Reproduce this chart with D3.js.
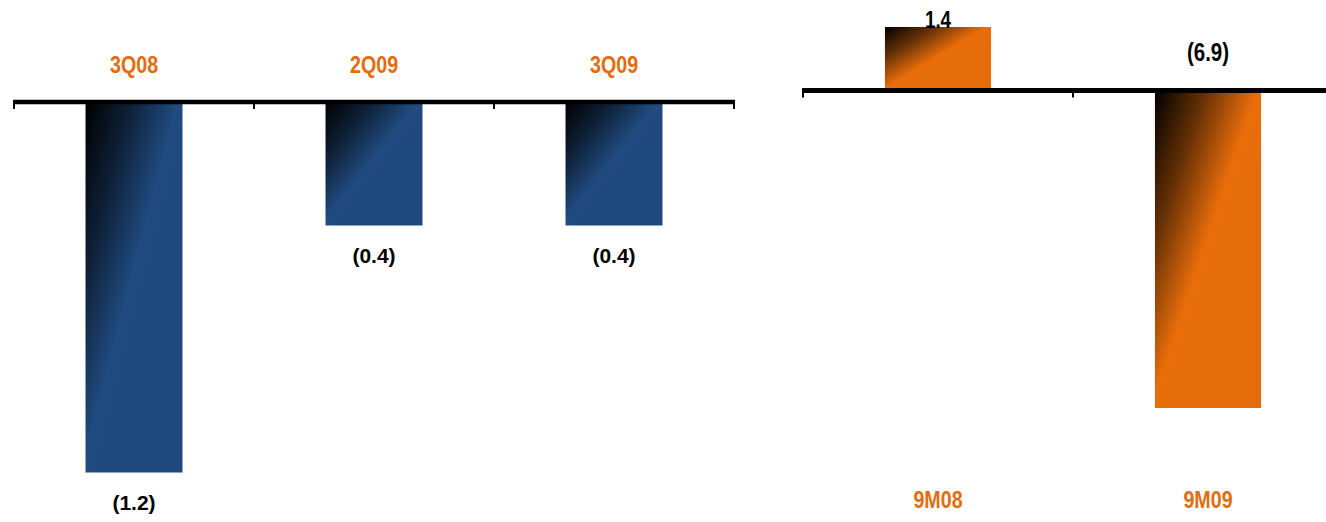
<!DOCTYPE html>
<html>
<head>
<meta charset="utf-8">
<script src="https://cdn.jsdelivr.net/npm/d3@7"></script>
<style>
  html, body { margin: 0; padding: 0; background: #fff; }
  svg { display: block; }
</style>
</head>
<body>
<svg id="chart" width="1326" height="522"></svg>
<script>
// ---- data ----
const quarterCategories = ["3Q08", "2Q09", "3Q09"];
const quarterValues = [-1.2, -0.4, -0.4];
const quarterLabels = ["(1.2)", "(0.4)", "(0.4)"];

const ytdCategories = ["9M08", "9M09"];
const ytdValues = [1.4, -6.9];
const ytdLabels = ["1.4", "(6.9)"];

// ---- styles ----
const BLUE = "#1F497D";
const ORANGE = "#E46C0A";
const SANS = "'Liberation Sans', Arial, sans-serif";
const NARROW_SCALE = 0.82;

const svg = d3.select("#chart");
const defs = svg.append("defs");

function makeGrad(id, color) {
  const g = defs.append("linearGradient")
    .attr("id", id)
    .attr("x1", 0).attr("y1", 0).attr("x2", 1).attr("y2", 1);
  const c = d3.color(color);
  g.append("stop").attr("offset", 0).attr("stop-color", "#000");
  g.append("stop").attr("offset", 0.24).attr("stop-color", d3.interpolateRgb("#000", color)(0.45));
  g.append("stop").attr("offset", 0.48).attr("stop-color", c.brighter(0.06).formatHex());
  g.append("stop").attr("offset", 0.62).attr("stop-color", color);
  g.append("stop").attr("offset", 1).attr("stop-color", color);
}
makeGrad("gBlue", BLUE);
makeGrad("gOrange", ORANGE);

// narrow-looking text via horizontal scale
function narrowText(sel, xf, yf) {
  sel.attr("x", 0).attr("y", 0)
    .attr("transform", (d, i) => `translate(${xf(d, i)},${yf(d, i)}) scale(${NARROW_SCALE},1)`);
}

// ---- left chart ----
const xL = d3.scaleBand().domain(quarterCategories).range([14, 734])
  .paddingInner(0.596).paddingOuter(0.298);
const yL = d3.scaleLinear().domain([0, -1.2]).range([102, 472.5]);

const left = svg.append("g");
left.selectAll("rect").data(quarterValues).join("rect")
  .attr("x", (d, i) => xL(quarterCategories[i]))
  .attr("width", xL.bandwidth())
  .attr("y", d => Math.min(yL(d), yL(0)))
  .attr("height", d => Math.abs(yL(d) - yL(0)))
  .attr("fill", "url(#gBlue)");

const stepL = xL.step();
const bL = d3.range(quarterCategories.length + 1).map(i => xL.range()[0] + i * stepL);
left.append("line")
  .attr("x1", bL[0] - 1).attr("x2", bL[bL.length - 1] + 1)
  .attr("y1", yL(0)).attr("y2", yL(0))
  .attr("stroke", "#000").attr("stroke-width", 4.5);
left.selectAll("line.tick").data(bL).join("line").attr("class", "tick")
  .attr("x1", d => d).attr("x2", d => d)
  .attr("y1", yL(0)).attr("y2", yL(0) + 7)
  .attr("stroke", "#000").attr("stroke-width", 2);

left.selectAll("text.cat").data(quarterCategories).join("text").attr("class", "cat")
  .call(narrowText, d => xL(d) + xL.bandwidth() / 2, () => 73)
  .attr("text-anchor", "middle")
  .attr("font-family", SANS).attr("font-weight", "bold").attr("font-size", 24)
  .attr("fill", ORANGE)
  .text(d => d);

left.selectAll("text.val").data(quarterValues).join("text").attr("class", "val")
  .attr("x", (d, i) => xL(quarterCategories[i]) + xL.bandwidth() / 2)
  .attr("y", d => yL(d) + 37)
  .attr("text-anchor", "middle")
  .attr("font-family", SANS).attr("font-weight", "bold").attr("font-size", 21)
  .attr("fill", "#000")
  .text((d, i) => quarterLabels[i]);

// ---- right chart ----
const xR = d3.scaleBand().domain(ytdCategories).range([803, 1343])
  .paddingInner(0.607).paddingOuter(0.3035);
const yR = d3.scaleLinear().domain([1.4, -6.9]).range([27, 408]);

const right = svg.append("g");
right.selectAll("rect").data(ytdValues).join("rect")
  .attr("x", (d, i) => xR(ytdCategories[i]))
  .attr("width", xR.bandwidth())
  .attr("y", d => Math.min(yR(d), yR(0)))
  .attr("height", d => Math.abs(yR(d) - yR(0)))
  .attr("fill", "url(#gOrange)");

const stepR = xR.step();
const bR = d3.range(ytdCategories.length + 1).map(i => xR.range()[0] + i * stepR);
const zR = yR(0) - 0.8;
right.append("line")
  .attr("x1", bR[0] - 1).attr("x2", bR[bR.length - 1])
  .attr("y1", zR).attr("y2", zR)
  .attr("stroke", "#000").attr("stroke-width", 5);
right.selectAll("line.tick").data(bR).join("line").attr("class", "tick")
  .attr("x1", d => d).attr("x2", d => d)
  .attr("y1", zR).attr("y2", zR + 7)
  .attr("stroke", "#000").attr("stroke-width", 2);

right.selectAll("text.cat").data(ytdCategories).join("text").attr("class", "cat")
  .call(narrowText, d => xR(d) + xR.bandwidth() / 2, () => 508)
  .attr("text-anchor", "middle")
  .attr("font-family", SANS).attr("font-weight", "bold").attr("font-size", 24)
  .attr("fill", ORANGE)
  .text(d => d);

right.selectAll("text.val").data(ytdValues).join("text").attr("class", "val")
  .call(narrowText, (d, i) => xR(ytdCategories[i]) + xR.bandwidth() / 2,
        d => d >= 0 ? yR(d) + 1 : zR - 29)
  .attr("text-anchor", "middle")
  .attr("font-family", SANS).attr("font-weight", "bold")
  .attr("font-size", d => d >= 0 ? 23 : 25)
  .attr("fill", "#000")
  .text((d, i) => ytdLabels[i]);
</script>
</body>
</html>
